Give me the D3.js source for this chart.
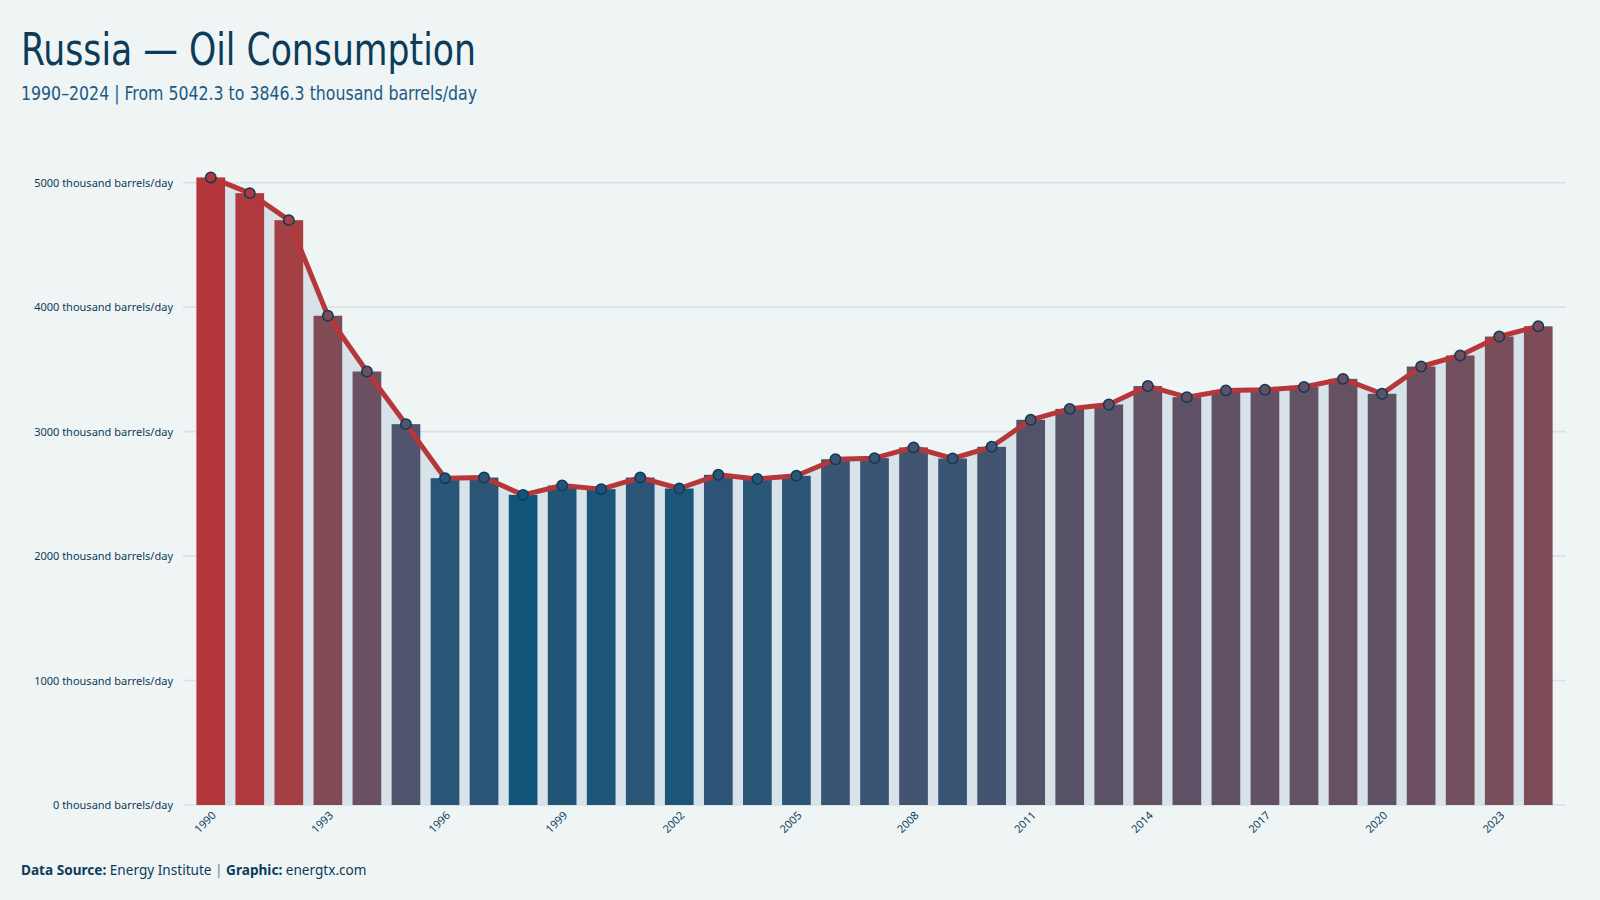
<!DOCTYPE html>
<html>
<head>
<meta charset="utf-8">
<script src="https://cdn.jsdelivr.net/npm/d3@7"></script>
<style>
  html, body { margin: 0; padding: 0; background: #eff5f5; }
  svg { display: block; font-family: "Noto Sans", "Open Sans", sans-serif; }
</style>
</head>
<body>
<svg id="chart" width="1600" height="900"></svg>
<script>
const years = [1990, 1991, 1992, 1993, 1994, 1995, 1996, 1997, 1998, 1999,
  2000, 2001, 2002, 2003, 2004, 2005, 2006, 2007, 2008, 2009,
  2010, 2011, 2012, 2013, 2014, 2015, 2016, 2017, 2018, 2019,
  2020, 2021, 2022, 2023, 2024];

const consumption = [5042.3, 4916, 4699, 3931, 3483, 3060, 2626, 2631, 2492, 2567,
  2538, 2631, 2543, 2653, 2620, 2645, 2778, 2787, 2873, 2784,
  2878, 3095, 3183, 3218, 3366, 3277, 3331, 3336, 3358, 3424,
  3304, 3523, 3612, 3764, 3846.3];

const yTicks = [0, 1000, 2000, 3000, 4000, 5000];
const xTickYears = years.filter((y) => (y - 1990) % 3 === 0);

const data = years.map((year, i) => ({ year, value: consumption[i] }));

const svg = d3.select("#chart");
const margin = { top: 182.7, right: 34, bottom: 95, left: 183 };
const width = 1600, height = 900;
const baseY = height - margin.bottom;

const x = d3.scaleBand()
  .domain(years)
  .range([margin.left, width - margin.right])
  .paddingInner(0.265)
  .paddingOuter(0.343);

const y = d3.scaleLinear()
  .domain([0, 5000])
  .range([baseY, margin.top]);

const color = d3.scaleLinear()
  .domain(d3.extent(consumption))
  .range(["#12557a", "#b3373a"])
  .interpolate(d3.interpolateLab);

const cx = (d) => x(d.year) + x.bandwidth() / 2;

// grid
svg.append("g")
  .selectAll("line")
  .data(yTicks)
  .join("line")
  .attr("x1", margin.left)
  .attr("x2", width - margin.right)
  .attr("y1", (d) => y(d))
  .attr("y2", (d) => y(d))
  .attr("stroke", "#d6e2e6")
  .attr("stroke-width", 1.6);

svg.append("g")
  .selectAll("text")
  .data(yTicks)
  .join("text")
  .attr("x", margin.left - 10)
  .attr("y", (d) => y(d) + 4)
  .attr("text-anchor", "end")
  .attr("font-size", "11px")
  .attr("fill", "#0d3b5a")
  .text((d) => `${d} thousand barrels/day`);

// area under the line
const area = d3.area()
  .x(cx)
  .y0(baseY)
  .y1((d) => y(d.value));

svg.append("path")
  .datum(data)
  .attr("fill", "#d7e3e8")
  .attr("d", area);

// bars
svg.append("g")
  .selectAll("rect")
  .data(data)
  .join("rect")
  .attr("x", (d) => x(d.year))
  .attr("y", (d) => y(d.value))
  .attr("width", x.bandwidth())
  .attr("height", (d) => baseY - y(d.value))
  .attr("fill", (d) => color(d.value));

// line
const line = d3.line()
  .x(cx)
  .y((d) => y(d.value));

svg.append("path")
  .datum(data)
  .attr("fill", "none")
  .attr("stroke", "#b5373a")
  .attr("stroke-width", 5)
  .attr("stroke-linejoin", "round")
  .attr("d", line);

svg.append("g")
  .selectAll("circle")
  .data(data)
  .join("circle")
  .attr("cx", cx)
  .attr("cy", (d) => y(d.value))
  .attr("r", 5.2)
  .attr("fill", (d) => color(d.value))
  .attr("stroke", "#0d3b5a")
  .attr("stroke-width", 1.5);

// x labels
svg.append("g")
  .selectAll("text")
  .data(xTickYears)
  .join("text")
  .attr("text-anchor", "end")
  .attr("transform", (d) => `translate(${x(d) + x.bandwidth() / 2 + 6},${baseY + 11}) rotate(-45)`)
  .attr("font-size", "11px")
  .attr("fill", "#0d3b5a")
  .text((d) => d);

// titles
svg.append("text")
  .attr("x", 21)
  .attr("y", 65)
  .attr("font-family", "'Liberation Sans Narrow', 'DejaVu Sans Condensed', 'Noto Sans', sans-serif")
  .attr("font-stretch", "condensed")
  .attr("font-size", "45px")
  .attr("fill", "#0d3b5a")
  .attr("textLength", 455)
  .attr("lengthAdjust", "spacingAndGlyphs")
  .text("Russia — Oil Consumption");

svg.append("text")
  .attr("x", 21)
  .attr("y", 100)
  .attr("font-family", "'Liberation Sans Narrow', 'DejaVu Sans Condensed', 'Noto Sans', sans-serif")
  .attr("font-stretch", "condensed")
  .attr("font-size", "20px")
  .attr("fill", "#1d5a84")
  .attr("textLength", 456)
  .attr("lengthAdjust", "spacingAndGlyphs")
  .text("1990–2024 | From 5042.3  to 3846.3 thousand barrels/day");

// footer
const foot = svg.append("text")
  .attr("x", 21)
  .attr("y", 875)
  .attr("font-size", "13.6px")
  .attr("fill", "#0d3b5a");
foot.append("tspan").attr("font-weight", "bold").text("Data Source:");
foot.append("tspan").text(" Energy Institute ");
foot.append("tspan").attr("fill", "#8aa3b3").attr("font-weight", "bold").text("|");
foot.append("tspan").attr("font-weight", "bold").text(" Graphic:");
foot.append("tspan").text(" energtx.com");
</script>
</body>
</html>
